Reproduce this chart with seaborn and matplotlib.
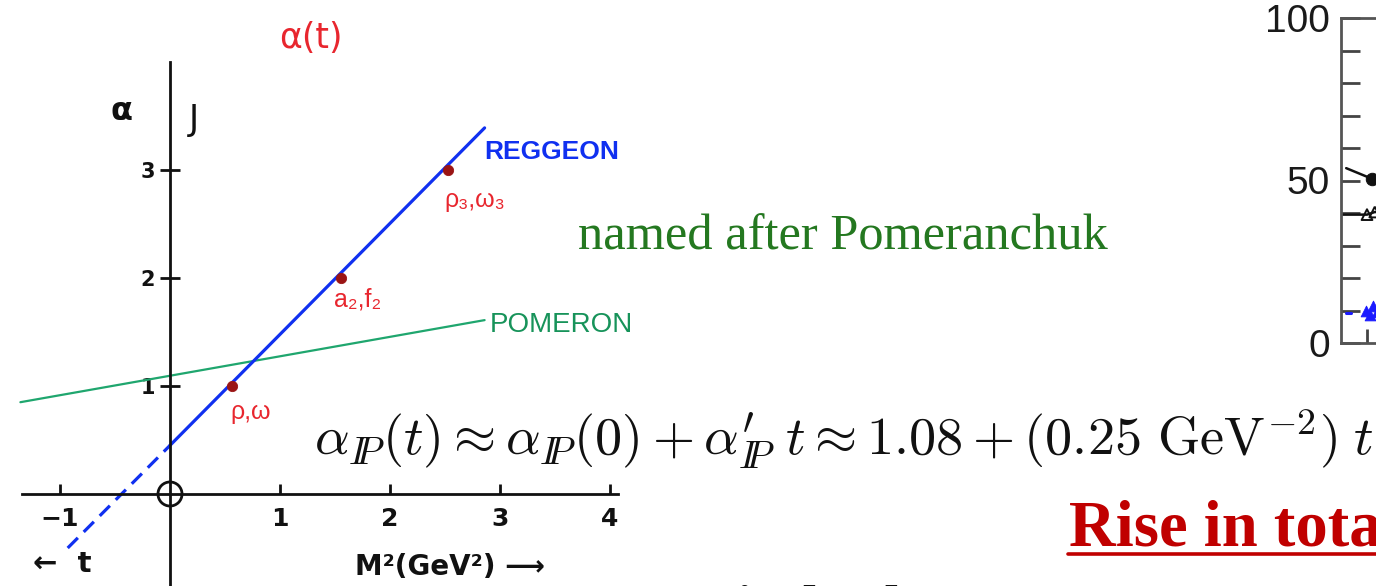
import matplotlib
matplotlib.use("Agg")
import matplotlib.pyplot as plt
import pandas as pd
import seaborn as sns

W, H = 1376, 586

# Chew-Frautschi plot: meson resonances on the leading Regge trajectory
regge_mass2 = [0.56, 1.55, 2.53]          # M^2 in GeV^2
regge_spin = [1, 2, 3]                    # J
regge_names = ["ρ,ω", "a₂,f₂", "ρ₃,ω₃"]

# trajectory segments (solid for t > 0, dashed continuation for t < 0)
regge_solid_x = [0.0, 2.86]
regge_solid_y = [0.45, 3.39]
regge_dash_x = [-0.93, 0.0]
regge_dash_y = [-0.50, 0.45]

# pomeron trajectory
pomeron_x = [-1.36, 2.86]
pomeron_y = [0.85, 1.61]

x_ticks = [-1, 1, 2, 3, 4]
x_tick_labels = ["−1", "1", "2", "3", "4"]
y_ticks = [1, 2, 3]

# partially visible total cross-section panel (mb)
sigma_major = [0, 50, 100]
sigma_minor = [10, 20, 30, 40, 60, 70, 80, 90]
pp_line_x = [0.2, 1.2, 2.2]
pp_line_y = [53.8, 50.5, 49.6]
pp_x = [1.2, 2.2]
pp_y = [50.5, 49.6]
pip_line_x = [0.0, 1.0, 1.3, 2.0]
pip_line_y = [39.5, 39.5, 40.3, 40.0]
pip_x = [1.0, 1.3, 2.0]
pip_y = [39.5, 40.3, 40.0]
gp_line_x = [0.2, 0.4]
gp_line_y = [9.3, 9.3]
gp_x = [0.95, 1.1, 1.25, 1.4, 1.55]
gp_y = [10.0, 8.5, 11.5, 9.5, 10.5]

sns.set_theme(style="white")
plt.rcParams["font.family"] = ["DejaVu Sans"]
plt.rcParams["mathtext.fontset"] = "cm"

RED = "#e8262e"
BLUE = "#1030f0"
DOT = "#9a1414"
GREEN_LINE = "#1fa66e"
GREEN_TXT = "#17935a"
GREEN_SERIF = "#247820"
DARK_RED = "#c00000"
HAND = ["Liberation Sans", "DejaVu Sans"]


def fx(px):
    return px / W


def fy(py):
    return 1 - py / H


fig = plt.figure(figsize=(W / 100, H / 100), dpi=100)
fig.patch.set_facecolor("white")

# main axes spans the whole canvas; data units map to ~110 px per GeV^2
ax = fig.add_axes([0, 0, 1, 1])
ax.set_facecolor("none")
ax.set_xlim(-170 / 110, (W - 170) / 110)
ax.set_ylim((494 - H) / 108, 494 / 108)

for side in ["top", "right"]:
    ax.spines[side].set_visible(False)
ax.spines["left"].set_position(("data", 0))
ax.spines["bottom"].set_position(("data", 0))
ax.spines["left"].set_bounds((494 - H) / 108, (494 - 62) / 108)
ax.spines["bottom"].set_bounds((22 - 170) / 110, (618 - 170) / 110)
for side in ["left", "bottom"]:
    ax.spines[side].set_color("#111111")
    ax.spines[side].set_linewidth(2.0)

ax.set_xticks(x_ticks)
ax.set_xticklabels(x_tick_labels)
ax.set_yticks(y_ticks)
ax.set_yticklabels([str(v) for v in y_ticks])
ax.tick_params(axis="x", direction="in", length=7, width=2, color="#111111",
               pad=9, labelsize=18, labelcolor="#111111", bottom=True)
ax.tick_params(axis="y", direction="inout", length=14, width=2, color="#111111",
               pad=4, labelsize=15, labelcolor="#111111", left=True)
for lab in ax.get_xticklabels() + ax.get_yticklabels():
    lab.set_fontweight("bold")

# trajectories
sns.lineplot(x=pomeron_x, y=pomeron_y, ax=ax, color=GREEN_LINE, lw=1.6,
             sort=False, estimator=None)
sns.lineplot(x=regge_solid_x, y=regge_solid_y, ax=ax, color=BLUE, lw=2.3,
             sort=False, estimator=None)
sns.lineplot(x=regge_dash_x, y=regge_dash_y, ax=ax, color=BLUE, lw=2.3,
             sort=False, estimator=None, linestyle=(0, (4.5, 2.6)))
sns.scatterplot(x=regge_mass2, y=regge_spin, ax=ax, color=DOT, s=55,
                edgecolor=DOT, zorder=5)
# origin marker
sns.scatterplot(x=[0], y=[0], ax=ax, marker="o", s=300, facecolor="none",
                edgecolor="#111111", linewidth=2.0, zorder=5)

# resonance labels
label_offsets = [(230, 412), (334, 300), (444, 200)]
for name, (px, py) in zip(regge_names, label_offsets):
    fig.text(fx(px), fy(py), name, color=RED, fontsize=18, ha="left",
             va="center", family=HAND)

fig.text(fx(311), fy(38), "α(t)", color=RED, fontsize=25, ha="center",
         va="center")
fig.text(fx(122), fy(112), "α", color="#111111", fontsize=23, ha="center",
         va="center", fontweight="bold")
fig.text(fx(194), fy(120), "J", color="#111111", fontsize=25, ha="center",
         va="center")
fig.text(fx(484), fy(152), "REGGEON", color=BLUE, fontsize=19,
         fontweight="bold", ha="left", va="center", family=HAND)
fig.text(fx(490), fy(325), "POMERON", color=GREEN_TXT, fontsize=20,
         ha="left", va="center", family=HAND)
fig.text(fx(62), fy(564), "←  t", color="#111111", fontsize=21,
         ha="center", va="center", fontweight="bold")
fig.text(fx(450), fy(567), "M²(GeV²) ⟶", color="#111111", fontsize=20,
         ha="center", va="center", fontweight="bold")

# slide text
fig.text(fx(578), fy(249), "named after Pomeranchuk", color=GREEN_SERIF,
         fontsize=36.4, ha="left", va="baseline", family="Liberation Serif")
fig.text(fx(314), fy(455),
         r"$\alpha_{I\!\!P}(t) \approx \alpha_{I\!\!P}(0) + "
         r"\alpha^{\prime}_{I\!\!P}\; t"
         r" \approx 1.08 + (0.25\ \mathrm{GeV}^{-2})\; t$",
         color="#111111", fontsize=39.1, ha="left", va="baseline")
fig.text(fx(1069), fy(546), "Rise in total", color=DARK_RED, fontsize=46.5,
         fontweight="bold", ha="left", va="baseline",
         family="Liberation Serif")
fig.add_artist(plt.Line2D([fx(1068), fx(1400)], [fy(554), fy(554)],
                          color=DARK_RED, lw=2.6))
fig.text(fx(736), fy(628), "in had", color="#111111", fontsize=44,
         fontweight="bold", ha="left", va="baseline",
         family="Liberation Serif")

# right-hand cross-section panel, mostly off-canvas
ax2 = fig.add_axes([fx(1341), fy(343), 460 / W, 325 / H])
ax2.set_facecolor("none")
ax2.set_xlim(0, 17.7)
ax2.set_ylim(0, 100)
ax2.spines["right"].set_visible(False)
for side in ["left", "bottom", "top"]:
    ax2.spines[side].set_color("#555555")
    ax2.spines[side].set_linewidth(2.0)
ax2.set_yticks(sigma_major)
ax2.set_yticks(sigma_minor, minor=True)
ax2.set_xticks([1])
ax2.set_xticklabels([])
ax2.tick_params(axis="y", which="both", direction="in", length=14, width=2,
                color="#444444", left=True, pad=8, labelsize=28,
                labelcolor="#1a1a1a")
ax2.tick_params(axis="x", direction="in", length=10, width=2, color="#444444",
                bottom=True)
for lab in ax2.get_yticklabels():
    lab.set_family("Liberation Sans")

sns.lineplot(x=pp_line_x, y=pp_line_y, ax=ax2, color="#111111", lw=1.8,
             sort=False, estimator=None)
sns.scatterplot(x=pp_x, y=pp_y, ax=ax2, color="#111111", s=80,
                edgecolor="#111111")
sns.lineplot(x=pip_line_x, y=pip_line_y, ax=ax2, color="#111111", lw=1.8,
             sort=False, estimator=None)
sns.scatterplot(x=pip_x, y=pip_y, ax=ax2, marker="^", s=60,
                facecolor="none", edgecolor="#111111", linewidth=1.4)
sns.lineplot(x=gp_line_x, y=gp_line_y, ax=ax2, color="#1a1aff", lw=2.2,
             sort=False, estimator=None)
sns.scatterplot(x=gp_x, y=gp_y, ax=ax2, color="#1a1aff", s=60,
                marker="^", edgecolor="#1a1aff")
ax2.set_xlabel("")
ax2.set_ylabel("")
ax.set_xlabel("")
ax.set_ylabel("")

fig.savefig("out.png", dpi=100, facecolor="white")
